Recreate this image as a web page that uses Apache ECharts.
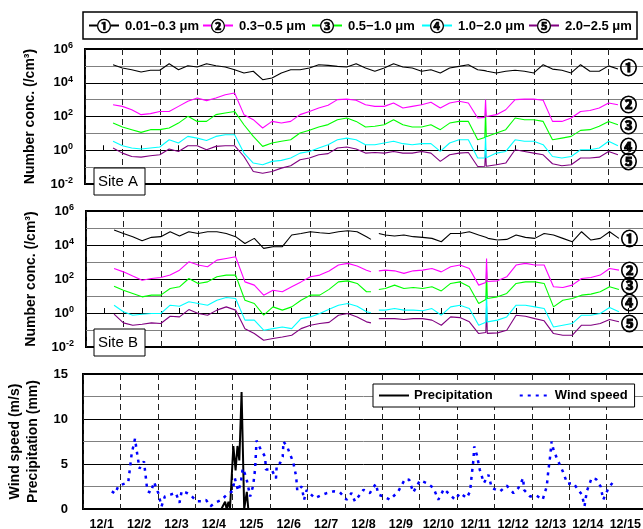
<!DOCTYPE html>
<html><head><meta charset="utf-8">
<script src="https://cdn.jsdelivr.net/npm/echarts@6/dist/echarts.min.js"></script>
<style>html,body{margin:0;padding:0;background:#fff}#c{width:643px;height:529px}</style>
</head><body><div id="c"></div>
<script>
// ---------- data ----------
const days = ['12/1','12/2','12/3','12/4','12/5','12/6','12/7','12/8','12/9','12/10','12/11','12/12','12/13','12/14','12/15'];
const sizeBins = ['0.01\u22120.3 \u03bcm','0.3\u22120.5 \u03bcm','0.5\u22121.0 \u03bcm','1.0\u22122.0 \u03bcm','2.0\u22122.5 \u03bcm'];
const binMarks = ['\u2460','\u2461','\u2462','\u2463','\u2464'];
const logTicks = [-2, 0, 2, 4, 6];

// time in days from the left edge (12/1 00:00)
const tA = [0.75,1,1.25,1.5,1.75,2,2.25,2.5,2.75,3,3.25,3.5,3.75,4,4.25,4.5,4.75,5,5.25,5.5,5.75,6,6.25,6.5,6.75,7,7.25,7.5,7.75,8,8.25,8.5,8.75,9,9.25,9.5,9.75,10,10.25,10.5,10.69,10.71,10.73,10.75,11,11.25,11.5,11.75,12,12.25,12.5,12.75,13,13.25,13.5,13.75,14,14.25];
const tB = [0.75,1,1.25,1.5,1.75,2,2.25,2.5,2.75,3,3.25,3.5,3.75,4,4.25,4.5,4.75,5,5.25,5.5,5.75,6,6.25,6.5,6.75,7,7.25,7.5,7.62,7.72,7.83,8,8.25,8.5,8.75,9,9.25,9.5,9.75,10,10.25,10.5,10.69,10.71,10.73,10.75,11,11.25,11.5,11.75,12,12.25,12.5,12.75,13,13.25,13.5,13.75,14,14.25];

// log10 of number concentration (/cm3), Site A
const siteA1 = [5.07,4.87,4.77,4.64,4.74,4.74,5.13,4.77,5.01,4.93,5.13,5.01,4.93,4.77,4.58,4.68,4.18,4.28,4.58,4.77,4.77,4.87,5.07,5.03,4.97,4.93,5.13,4.87,4.68,4.87,5.13,4.93,4.87,4.68,4.77,4.58,4.87,4.97,5.07,4.77,4.72,4.72,4.70,4.68,4.58,4.68,4.74,4.68,4.58,5.07,4.81,4.74,4.58,5.07,4.68,4.68,5.0,4.81];
const siteA2 = [2.70,2.60,2.40,2.11,2.17,2.30,2.30,2.60,2.90,3.10,2.94,3.10,3.29,3.39,2.11,1.81,1.32,1.71,1.61,1.71,2.11,2.30,2.50,2.67,3.0,3.03,2.96,2.70,2.60,2.60,2.80,2.50,2.60,2.70,2.84,2.50,2.80,2.90,2.80,1.91,1.95,3.0,2.0,2.01,2.11,2.40,3.0,3.03,3.03,2.96,1.71,1.71,1.91,2.30,2.36,2.50,2.80,2.70];
const siteA3 = [1.61,1.38,1.22,1.06,1.22,1.22,1.32,1.61,2.01,1.71,1.71,2.11,2.21,2.30,1.51,0.82,0.23,0.43,0.53,0.62,1.02,1.18,1.38,1.52,1.81,1.91,1.71,1.38,1.42,1.51,1.81,1.51,1.38,1.38,1.51,1.22,1.61,1.71,1.71,0.62,0.75,2.3,0.8,0.82,1.02,1.22,1.91,1.81,1.81,1.71,0.62,0.72,0.82,1.18,1.22,1.42,1.71,1.51];
const siteA4 = [0.53,0.27,0.13,0.07,0.13,0.19,0.62,0.43,0.82,0.72,0.58,0.82,0.92,0.92,-0.17,-0.76,-0.86,-0.66,-0.60,-0.46,-0.17,-0.07,0.13,0.33,0.62,0.72,0.62,0.33,0.33,0.43,0.53,0.39,0.33,0.39,0.39,-0.07,0.43,0.62,0.62,-0.46,-0.45,0.85,-0.45,-0.46,-0.17,-0.07,0.62,0.53,0.53,0.33,-0.37,-0.46,-0.37,0.03,0.03,0.13,0.53,0.27];
const siteA5 = [0.13,-0.17,-0.37,-0.41,-0.33,-0.27,0.07,-0.07,0.27,0.27,0.03,0.23,0.27,0.27,-0.37,-1.26,-1.36,-1.26,-1.06,-0.92,-0.56,-0.46,-0.27,-0.2,0.13,0.19,0.07,-0.17,-0.13,-0.17,-0.07,-0.17,-0.17,-0.07,-0.17,-0.66,-0.27,-0.17,-0.13,-0.96,-0.95,0.1,-0.95,-0.96,-0.86,-0.76,0.03,-0.07,-0.17,-0.27,-0.80,-0.92,-0.86,-0.46,-0.46,-0.41,-0.07,-0.27];

// Site B
const siteB1 = [4.88,4.68,4.49,4.25,4.45,4.49,4.78,4.53,4.78,4.68,4.78,4.78,4.68,4.49,4.09,4.39,3.80,3.90,3.90,4.59,4.68,4.78,4.72,4.68,4.78,4.84,4.78,4.49,4.33,null,4.68,4.59,4.53,4.59,4.49,4.45,4.39,4.19,4.68,4.68,4.78,4.59,4.45,4.45,4.40,4.39,4.29,4.33,4.59,4.45,4.39,4.68,4.59,4.39,4.19,4.78,4.29,4.39,4.78,4.39];
const siteB2 = [2.62,2.42,2.17,1.93,2.03,2.09,2.23,2.52,3.01,2.82,2.72,3.11,3.21,3.31,1.83,1.64,1.05,1.34,1.25,1.54,1.83,2.13,2.23,2.47,2.82,2.92,2.76,2.52,2.42,null,2.48,2.52,2.48,2.33,2.48,2.52,2.62,2.42,2.72,2.82,2.62,1.64,1.8,3.21,1.85,1.83,1.89,2.13,2.82,2.92,2.82,2.82,1.54,1.50,1.64,2.03,2.09,2.23,2.62,2.52];
const siteB3 = [1.58,1.34,1.15,0.95,1.05,1.05,1.44,1.54,2.03,1.74,1.83,2.13,2.23,2.23,0.75,0.56,-0.13,0.36,0.17,0.36,0.75,1.05,1.05,1.39,1.83,1.89,1.74,1.25,1.25,null,1.38,1.44,1.64,1.44,1.50,1.44,1.54,1.30,1.74,1.83,1.54,0.56,0.8,2.5,0.85,0.85,0.95,1.15,1.74,1.83,1.83,1.74,0.36,0.75,0.85,1.05,1.11,1.25,1.54,1.38];
const siteB4 = [0.46,0.07,-0.13,-0.07,-0.03,-0.03,0.46,0.40,0.66,0.56,0.46,0.75,0.91,0.85,-0.42,-0.42,-1.01,-0.92,-0.82,-0.92,-0.33,-0.23,-0.03,0.22,0.46,0.56,0.40,0.07,0.01,null,0.17,0.17,0.26,0.17,0.17,0.13,0.26,-0.13,0.36,0.46,0.26,-0.72,-0.55,1.3,-0.52,-0.52,-0.42,-0.23,0.46,0.46,0.36,0.26,-0.82,-0.72,-0.62,-0.13,-0.13,-0.03,0.32,0.07];
const siteB5 = [-0.07,-0.58,-0.72,-0.66,-0.58,-0.62,-0.19,-0.23,0.20,-0.03,-0.13,0.17,0.36,0.17,-0.92,-1.21,-1.60,-1.50,-1.41,-1.31,-0.92,-0.72,-0.62,-0.55,-0.13,-0.03,-0.23,-0.52,-0.58,null,-0.33,-0.33,-0.33,-0.38,-0.33,-0.33,-0.42,-0.72,-0.23,-0.27,-0.52,-1.21,-1.15,0.4,-1.2,-1.21,-1.17,-1.01,-0.13,-0.19,-0.33,-0.46,-1.21,-1.31,-1.31,-0.72,-0.72,-0.62,-0.38,-0.52];

// wind speed (m/s)
const tWind = [0.77,0.86,0.94,1.03,1.21,1.30,1.39,1.45,1.51,1.63,1.68,1.72,1.81,1.90,2.01,2.10,2.19,2.34,2.48,2.58,2.64,2.77,2.91,3.04,3.17,3.29,3.41,3.53,3.70,3.85,4.00,4.06,4.15,4.22,4.27,4.36,4.47,4.55,4.60,4.62,4.64,4.73,4.87,4.89,5.04,5.16,5.18,5.27,5.34,5.36,5.46,5.62,5.70,5.73,5.85,5.91,5.98,6.20,6.34,6.52,6.70,6.87,7.05,7.18,7.27,7.50,7.67,7.83,7.90,8.03,8.21,8.43,8.61,8.72,8.83,9.01,9.19,9.37,9.50,9.65,9.81,9.95,10.08,10.26,10.35,10.39,10.44,10.46,10.53,10.61,10.72,10.84,10.93,11.15,11.33,11.51,11.64,11.77,11.79,11.95,12.13,12.29,12.40,12.44,12.49,12.53,12.58,12.68,12.83,12.95,13.11,13.34,13.41,13.47,13.60,13.72,13.84,13.91,14.05,14.22];
const wind = [1.96,1.70,2.5,2.7,2.96,6.1,7.8,6.1,4.5,5.3,3.5,2.0,1.8,3.0,1.8,0.3,1.4,1.6,1.8,0.7,2.0,1.8,1.4,0.85,0.85,1.0,0.3,0.7,1.0,1.6,2.0,3.4,2.0,2.9,4.5,3.6,1.4,2.6,4.4,5.9,7.6,6.8,5.8,4.4,4.4,3.4,4.9,5.1,5.8,7.5,6.9,5.2,3.6,2.0,2.5,1.0,2.1,1.2,1.48,1.77,1.96,1.85,1.03,1.77,0.85,2.14,1.77,2.8,1.59,1.40,1.03,1.96,3.32,3.25,1.85,3.18,2.88,2.33,1.03,2.22,1.59,1.03,1.77,1.22,1.96,3.62,5.47,6.95,6.02,4.36,2.88,3.80,2.33,1.96,2.59,1.77,2.33,3.44,2.14,1.40,1.48,1.03,2.51,4.17,5.84,7.5,6.58,5.54,4.17,2.81,2.88,1.59,0.30,1.96,3.44,3.32,2.51,1.03,2.33,3.25];

// precipitation (mm)
const tRain = [3.70,3.75,3.80,3.84,3.89,3.93,3.98,4.02,4.08,4.13,4.18,4.24,4.31,4.38,4.42];
const rain = [0,0,0.8,0,0.8,0,0,7.0,4.3,7.0,5.4,13.0,0,1.9,0];

// ---------- chart ----------
const F = '"Liberation Sans", Arial, sans-serif';
const CF = '"Noto Sans CJK JP", "DejaVu Sans", sans-serif';
const binColors = ['#000000','#ff00ff','#00ff00','#00ffff','#800080'];
const pairs = (t, v) => t.map((x, i) => [x, v[i] === undefined ? null : v[i]]);

const chart = echarts.init(document.getElementById('c'), null, {renderer: 'canvas'});

function concSeries(t, vals, i, xi, yi, dy, site) {
  return {
    type: 'line', name: site + binMarks[i], xAxisIndex: xi, yAxisIndex: yi,
    data: pairs(t, vals), symbol: 'none', showSymbol: false, connectNulls: false,
    lineStyle: {color: binColors[i], width: 1.1}, itemStyle: {color: binColors[i]},
    z: 10 - i, silent: true,
    endLabel: {show: true, formatter: binMarks[i], color: '#000', fontSize: 17, fontWeight: 'bold',
      fontFamily: CF, distance: 2, offset: [0, dy], textBorderColor: '#000', textBorderWidth: 0.9}
  };
}

const catAxis = (gi, showLabels) => ({
  type: 'category', gridIndex: gi, data: days, boundaryGap: true, position: 'bottom',
  axisLine: {show: false},
  axisTick: {show: !showLabels, inside: true, alignWithLabel: true, length: 5, lineStyle: {color: '#000', width: 1}},
  axisLabel: {show: showLabels, interval: 0, margin: 9, color: '#000', fontFamily: F, fontWeight: 'bold', fontSize: 12.5},
  splitLine: {show: true, interval: 0, lineStyle: {color: '#222', width: 1, type: [6, 4]}}
});
const valX = (gi) => ({type: 'value', gridIndex: gi, min: 0, max: 15, show: false});

const logY = (gi) => ({
  type: 'value', gridIndex: gi, min: -2, max: 6, interval: 2,
  name: 'Number conc. (/cm\u00b3)', nameLocation: 'middle', nameRotate: 90, nameGap: 48,
  nameTextStyle: {fontFamily: F, fontWeight: 'bold', fontSize: 14, color: '#000'},
  axisLine: {show: false}, axisTick: {show: false},
  minorTick: {show: false, splitNumber: 2},
  minorSplitLine: {show: true, lineStyle: {color: '#808080', width: 1}},
  splitLine: {show: true, lineStyle: {color: '#000', width: 1}},
  axisLabel: {
    margin: 12, showMinLabel: true, showMaxLabel: true,
    formatter: (v) => '{b|10}{s|' + v + '}',
    rich: {
      b: {fontFamily: F, fontWeight: 'bold', fontSize: 13, color: '#000', lineHeight: 16},
      s: {fontFamily: F, fontWeight: 'bold', fontSize: 9, color: '#000', lineHeight: 9, verticalAlign: 'top'}
    }
  }
});

const siteA = [siteA1, siteA2, siteA3, siteA4, siteA5];
const siteB = [siteB1, siteB2, siteB3, siteB4, siteB5];
const dyA = [-2, 0, 1, 1, 7];
const dyB = [0, 0, -4, -9, 2];

const series = [];
siteA.forEach((v, i) => series.push(concSeries(tA, v, i, 1, 0, dyA[i], 'A')));
siteB.forEach((v, i) => series.push(concSeries(tB, v, i, 3, 1, dyB[i], 'B')));
series.push({
  type: 'line', name: 'Precipitation', xAxisIndex: 5, yAxisIndex: 2,
  data: pairs(tRain, rain), symbol: 'none', showSymbol: false,
  lineStyle: {color: '#000', width: 2}, itemStyle: {color: '#000'}, z: 5
});
series.push({
  type: 'line', name: 'Wind speed', xAxisIndex: 5, yAxisIndex: 2,
  data: pairs(tWind, wind), symbol: 'none', showSymbol: false,
  lineStyle: {color: '#0000ff', width: 2.5, type: [3, 5]}, itemStyle: {color: '#0000ff'}, z: 6
});

// top legend (graphic) layout
const legX = [89, 203, 312, 422, 529];
const graphic = [
  {type: 'rect', z: 100, shape: {x: 83, y: 12, width: 554, height: 27}, style: {fill: '#fff', stroke: '#000', lineWidth: 1.5}}
];
legX.forEach((s, i) => {
  graphic.push({type: 'line', z: 101, shape: {x1: s, y1: 25.5, x2: s + 30, y2: 25.5}, style: {stroke: binColors[i], lineWidth: 2}});
  graphic.push({type: 'text', z: 102, x: s + 15, y: 25.5, style: {text: binMarks[i], align: 'center', verticalAlign: 'middle',
    fontFamily: CF, fontWeight: 'bold', fontSize: 14, fill: '#000', stroke: '#000', lineWidth: 0.7,
    backgroundColor: '#fff', lineHeight: 14}});
  graphic.push({type: 'text', z: 102, x: s + 36, y: 26, style: {text: sizeBins[i], align: 'left', verticalAlign: 'middle',
    fontFamily: F, fontWeight: 'bold', fontSize: 13, fill: '#000'}});
});
[['Site A', 168], ['Site B', 329]].forEach(([txt, y]) => {
  graphic.push({type: 'rect', z: 100, shape: {x: 94, y: y, width: 51, height: 27}, style: {fill: '#fff', stroke: '#000', lineWidth: 1}});
  graphic.push({type: 'text', z: 101, x: 98, y: y + 14, style: {text: txt, verticalAlign: 'middle', fontFamily: F, fontSize: 15, fill: '#000'}});
});

chart.setOption({
  animation: false,
  backgroundColor: '#fff',
  grid: [
    {left: 85, top: 49, width: 561, height: 135, show: true, borderColor: '#000', borderWidth: 2, backgroundColor: 'transparent', outerBoundsMode: 'none', containLabel: false},
    {left: 86, top: 211, width: 561, height: 136, show: true, borderColor: '#000', borderWidth: 2, backgroundColor: 'transparent', outerBoundsMode: 'none', containLabel: false},
    {left: 83, top: 374, width: 561, height: 135, show: true, borderColor: '#000', borderWidth: 2, backgroundColor: 'transparent', outerBoundsMode: 'none', containLabel: false}
  ],
  xAxis: [catAxis(0, false), valX(0), catAxis(1, false), valX(1), catAxis(2, true), valX(2)],
  yAxis: [logY(0), logY(1), {
    type: 'value', gridIndex: 2, min: 0, max: 15, interval: 5,
    name: 'Wind speed (m/s)\nPrecipitation (mm)', nameLocation: 'middle', nameRotate: 90, nameGap: 40,
    nameTextStyle: {fontFamily: F, fontWeight: 'bold', fontSize: 14, color: '#000', lineHeight: 18},
    axisLine: {show: false}, axisTick: {show: false},
    minorTick: {show: false, splitNumber: 2},
    minorSplitLine: {show: true, lineStyle: {color: '#808080', width: 1}},
    splitLine: {show: true, lineStyle: {color: '#000', width: 1}},
    axisLabel: {margin: 15, color: '#000', fontFamily: F, fontWeight: 'bold', fontSize: 13, showMinLabel: true, showMaxLabel: true}
  }],
  legend: {
    data: ['Precipitation', 'Wind speed'], left: 373, top: 384, orient: 'horizontal',
    itemWidth: 30, itemHeight: 12, itemGap: 26, padding: [5, 7, 5, 5],
    itemStyle: {opacity: 0},
    borderColor: '#000', borderWidth: 1, backgroundColor: '#fff', selectedMode: false,
    textStyle: {fontFamily: F, fontWeight: 'bold', fontSize: 13, color: '#000'}
  },
  graphic: graphic,
  series: series
});
</script>
</body></html>
